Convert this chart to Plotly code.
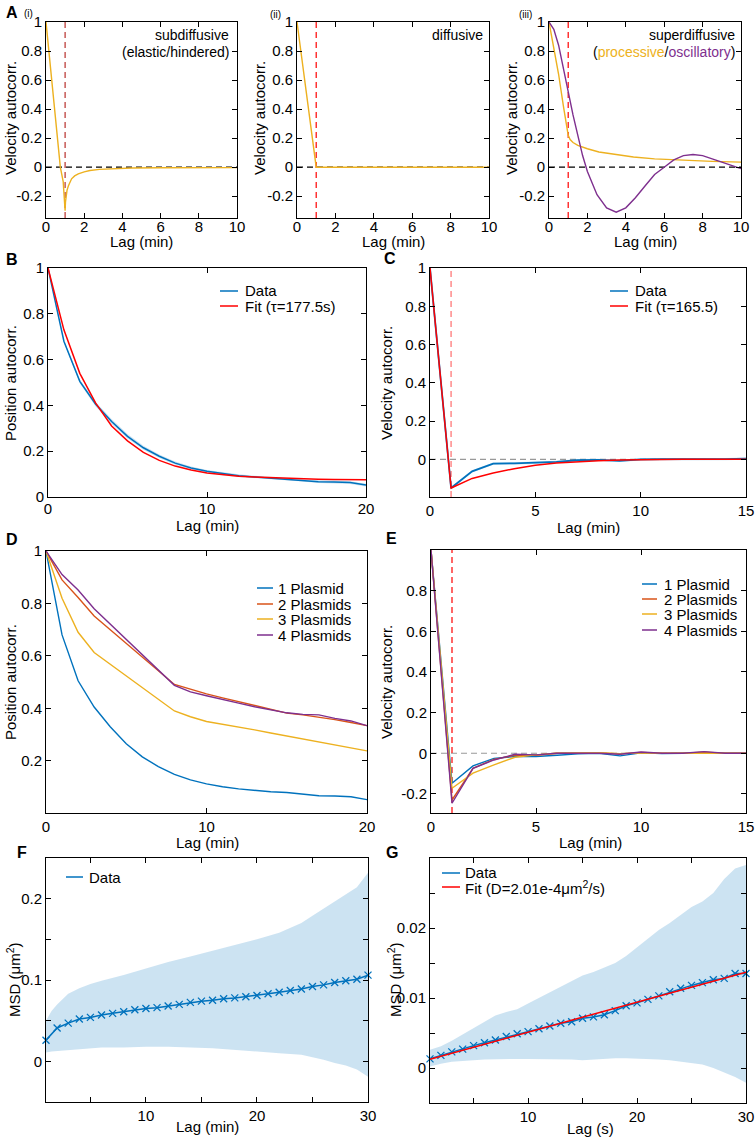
import plotly.graph_objects as go

W, H = 756, 1137
FONT = "Liberation Sans, Arial, Helvetica, sans-serif"
BLUE = "#0072BD"
ORANGE = "#D95319"
YELLOW = "#EDB120"
PURPLE = "#7E2F8E"
RED = "#FF0000"
BAND = "rgba(0,114,189,0.2)"

# ---- panel A: model velocity autocorrelations ----
ai_x = [0, 0.25, 0.5, 0.75, 0.9, 1.0, 1.02, 1.05, 1.1, 1.17, 1.25, 1.34, 1.5, 1.69, 2.0, 2.3, 2.8, 3.34, 4.5, 6, 8, 10]
ai_y = [1, 0.65, 0.3, 0.0, -0.1, -0.3, -0.24, -0.2, -0.16, -0.13, -0.1, -0.08, -0.06, -0.046, -0.032, -0.023, -0.015, -0.011, -0.006, -0.004, -0.003, -0.003]

aii_x = [0, 1, 10]
aii_y = [1, 0, 0]

aiii_proc_x = [0, 0.25, 0.5, 0.75, 0.9, 1.0, 1.1, 1.25, 1.5, 2.0, 2.6, 3.5, 4.4, 5.5, 7, 8.5, 10]
aiii_proc_y = [1, 0.83, 0.64, 0.42, 0.29, 0.22, 0.19, 0.17, 0.15, 0.127, 0.105, 0.085, 0.07, 0.057, 0.047, 0.04, 0.035]
aiii_osc_x = [0, 0.25, 0.5, 0.75, 1, 1.25, 1.5, 1.75, 2, 2.5, 3, 3.5, 4, 4.5, 5, 5.5, 6, 6.5, 7, 7.5, 8, 8.5, 9, 9.5, 10]
aiii_osc_y = [1, 0.95, 0.84, 0.69, 0.52, 0.36, 0.21, 0.08, -0.03, -0.19, -0.28, -0.31, -0.28, -0.21, -0.13, -0.05, 0.0, 0.05, 0.08, 0.087, 0.08, 0.06, 0.035, 0.012, -0.01]

# ---- panels B / D: position autocorrelation ----
lag20 = list(range(0, 21))
pos_1 = [1, 0.68, 0.505, 0.405, 0.33, 0.265, 0.215, 0.178, 0.148, 0.127, 0.112, 0.101, 0.093, 0.087, 0.082, 0.079, 0.074, 0.067, 0.066, 0.063, 0.052]
pos_1_lo = [1, 0.675, 0.497, 0.395, 0.319, 0.255, 0.206, 0.17, 0.141, 0.121, 0.106, 0.095, 0.087, 0.081, 0.076, 0.073, 0.068, 0.061, 0.06, 0.057, 0.046]
pos_1_hi = [1, 0.685, 0.513, 0.415, 0.341, 0.275, 0.224, 0.186, 0.155, 0.133, 0.118, 0.107, 0.099, 0.093, 0.088, 0.085, 0.08, 0.073, 0.072, 0.069, 0.058]
pos_fit = [1, 0.73, 0.54, 0.41, 0.31, 0.245, 0.195, 0.16, 0.135, 0.118, 0.105, 0.097, 0.091, 0.087, 0.084, 0.081, 0.079, 0.077, 0.076, 0.075, 0.075]

lagD = [0, 1, 2, 3, 8, 9, 10, 11, 12, 13, 14, 15, 16, 17, 18, 19, 20]
pos_2 = [1, 0.89, 0.823, 0.752, 0.491, 0.472, 0.455, 0.44, 0.425, 0.41, 0.395, 0.382, 0.375, 0.367, 0.357, 0.346, 0.334]
pos_3 = [1, 0.82, 0.69, 0.613, 0.39, 0.368, 0.35, 0.34, 0.33, 0.318, 0.306, 0.295, 0.283, 0.272, 0.262, 0.25, 0.238]
pos_4 = [1, 0.91, 0.851, 0.78, 0.488, 0.463, 0.448, 0.435, 0.42, 0.406, 0.395, 0.383, 0.377, 0.375, 0.362, 0.352, 0.334]

# ---- panels C / E: velocity autocorrelation ----
lag15 = list(range(0, 16))
vel_1 = [1, -0.15, -0.063, -0.023, -0.021, -0.018, -0.013, -0.005, -0.003, -0.008, 0.0, 0.001, 0.0, 0.0, 0.001, 0.004]
vel_fit = [1, -0.15, -0.10, -0.072, -0.049, -0.031, -0.019, -0.012, -0.007, -0.004, -0.002, -0.001, 0, 0, 0, 0]

velE_1 = [1, -0.148, -0.062, -0.025, -0.016, -0.016, -0.01, -0.003, 0.0, -0.013, 0.002, -0.002, 0.0, 0.004, 0.0, 0.0]
velE_2 = [1, -0.23, -0.074, -0.03, -0.01, -0.01, 0.0, 0.0, 0.002, -0.003, 0.004, 0.0, 0.0, 0.005, 0.0, 0.0]
velE_3 = [1, -0.172, -0.098, -0.057, -0.02, -0.008, 0.0, 0.0, 0.003, -0.002, 0.002, 0.0, 0.0, 0.0, 0.0, 0.0]
velE_4 = [1, -0.246, -0.074, -0.033, -0.005, -0.008, 0.0, 0.0, 0.0, -0.005, 0.006, 0.0, 0.0, 0.008, 0.0, 0.0]

# ---- panel F: MSD (min) ----
lag30 = list(range(1, 31))
msd_min = [0.026, 0.041, 0.047, 0.052, 0.054, 0.057, 0.059, 0.061, 0.0635, 0.065, 0.066, 0.068, 0.070, 0.0725, 0.074,
           0.075, 0.077, 0.078, 0.0795, 0.081, 0.083, 0.085, 0.087, 0.089, 0.092, 0.094, 0.097, 0.099, 0.101, 0.106]
F_band_x = [1, 1.5, 2, 3, 4, 5, 6, 8, 10, 12, 14, 16, 18, 20, 22, 24, 25, 26, 27, 28, 29, 30]
F_band_hi = [0.050, 0.062, 0.070, 0.083, 0.090, 0.095, 0.099, 0.106, 0.114, 0.122, 0.129, 0.136, 0.143, 0.150, 0.158, 0.170, 0.179, 0.188, 0.197, 0.205, 0.214, 0.232]
F_band_lo = [0.011, 0.012, 0.013, 0.014, 0.015, 0.016, 0.017, 0.017, 0.018, 0.018, 0.017, 0.016, 0.014, 0.012, 0.010, 0.008, 0.005, 0.002, -0.002, -0.005, -0.010, -0.019]

# ---- panel G: MSD (s) ----
msd_s = [0.0013, 0.0018, 0.0023, 0.0027, 0.0032, 0.0036, 0.0040, 0.0045, 0.0049, 0.0052, 0.0056, 0.0060, 0.0064, 0.0066, 0.0071,
         0.0073, 0.0076, 0.0082, 0.0089, 0.0093, 0.0098, 0.0103, 0.0109, 0.0114, 0.0118, 0.0122, 0.0126, 0.0128, 0.0135, 0.0135]
msd_fit_x = [1, 30]
msd_fit_y = [0.00125, 0.0137]
G_band_x = [1, 2, 3, 4, 5, 6, 7, 8, 9, 10, 12, 14, 15, 16, 17, 18, 19, 20, 21, 22, 23, 24, 25, 26, 27, 28, 29, 30]
G_band_hi = [0.0026, 0.0031, 0.0039, 0.0048, 0.0057, 0.0066, 0.0075, 0.0080, 0.0084, 0.0092, 0.0108, 0.0125, 0.0132, 0.0137,
             0.0143, 0.0150, 0.0160, 0.0172, 0.0185, 0.0197, 0.0207, 0.0218, 0.0230, 0.0238, 0.0250, 0.0270, 0.0285, 0.0290]
G_band_lo = [0.0002, 0.0006, 0.0009, 0.0010, 0.0011, 0.0012, 0.0012, 0.0013, 0.0013, 0.0013, 0.0013, 0.0012, 0.0011, 0.0012,
             0.0013, 0.0014, 0.0014, 0.0013, 0.0013, 0.0012, 0.0011, 0.0010, 0.0007, 0.0005, 0.0000, -0.0006, -0.0013, -0.0021]

fig = go.Figure()


def suffix(n):
    return "" if n == 1 else str(n)


def axes(n, box, xr, yr, xt, xl, yt, yl, xstand=0):
    x0, y0, x1, y1 = box
    s = suffix(n)
    common = dict(showline=True, linecolor="black", linewidth=1, mirror="ticks", ticks="inside",
                  ticklen=5, tickcolor="black", tickwidth=1, showgrid=False, zeroline=False,
                  tickfont=dict(family=FONT, size=15, color="black"), automargin=False)
    fig.update_layout(**{
        "xaxis" + s: dict(domain=[x0 / W, x1 / W], range=xr, anchor="y" + s, tickvals=xt, ticktext=xl,
                          ticklabelstandoff=xstand, **common),
        "yaxis" + s: dict(domain=[1 - y1 / H, 1 - y0 / H], range=yr, anchor="x" + s, tickvals=yt, ticktext=yl, **common),
    })


def line(n, x, y, color, width=1.4, **kw):
    s = suffix(n)
    fig.add_trace(go.Scatter(x=x, y=y, xaxis="x" + s, yaxis="y" + s, mode="lines",
                             line=dict(color=color, width=width), showlegend=False, hoverinfo="skip", **kw))


def band(n, x, lo, hi):
    s = suffix(n)
    fig.add_trace(go.Scatter(x=list(x) + list(x)[::-1], y=list(hi) + list(lo)[::-1], xaxis="x" + s, yaxis="y" + s,
                             mode="lines", fill="toself", fillcolor=BAND, line=dict(width=0),
                             showlegend=False, hoverinfo="skip"))


def hline(n, y, color, dash="6px,4px"):
    s = suffix(n)
    fig.add_shape(type="line", xref="x" + s + " domain", yref="y" + s, x0=0, x1=1, y0=y, y1=y,
                  line=dict(color=color, width=1.2, dash=dash), layer="below")


def vline(n, x, color, dash="6px,4px"):
    s = suffix(n)
    fig.add_shape(type="line", xref="x" + s, yref="y" + s + " domain", x0=x, x1=x, y0=0, y1=1,
                  line=dict(color=color, width=1.2, dash=dash), layer="below")


def text(px, py, t, size=15, anchor="center", angle=0, color="black"):
    fig.add_annotation(xref="paper", yref="paper", x=px / W, y=1 - py / H, text=t, showarrow=False,
                       xanchor=anchor, yanchor="middle", textangle=angle,
                       font=dict(family=FONT, size=size, color=color))


def legend(items, lx0, lx1, tx, ys):
    for (name, color), y in zip(items, ys):
        fig.add_shape(type="line", xref="paper", yref="paper", x0=lx0 / W, x1=lx1 / W,
                      y0=1 - y / H, y1=1 - y / H, line=dict(color=color, width=1.5))
        text(tx, y, name, anchor="left")


ticksA_x = [0, 2, 4, 6, 8, 10]
ticksA_y = [-0.2, 0, 0.2, 0.4, 0.6, 0.8, 1]
labA_y = ["-0.2", "0", "0.2", "0.4", "0.6", "0.8", "1"]
pos_ticks = [0, 0.2, 0.4, 0.6, 0.8, 1]
pos_lab = ["0", "0.2", "0.4", "0.6", "0.8", "1"]

# A(i)-(iii)
boxesA = [(46, 22, 237, 218), (297, 22, 489, 218), (549, 22, 741, 218)]
for i, b in enumerate(boxesA, start=1):
    axes(i, b, [0, 10], [-0.35, 1], ticksA_x, [str(v) for v in ticksA_x], ticksA_y, labA_y, xstand=-5)
    hline(i, 0, "black")
vline(1, 1, "#B8302C")
vline(2, 1, RED)
vline(3, 1, RED)
line(1, ai_x, ai_y, YELLOW)
line(2, aii_x, aii_y, YELLOW)
line(3, aiii_proc_x, aiii_proc_y, YELLOW)
line(3, aiii_osc_x, aiii_osc_y, PURPLE)

# B
axes(4, (48, 268, 366, 497), [0, 20], [0, 1], [0, 10, 20], ["0", "10", "20"], pos_ticks, pos_lab, xstand=-2)
band(4, lag20, pos_1_lo, pos_1_hi)
line(4, lag20, pos_1, BLUE, 1.5)
line(4, lag20, pos_fit, RED, 1.5)

# C
axes(5, (430, 268, 746, 497), [0, 15], [-0.197, 1], [0, 5, 10, 15], ["0", "5", "10", "15"], pos_ticks, pos_lab)
hline(5, 0, "#999999")
vline(5, 1, "rgba(255,60,60,0.75)")
band(5, lag15, [v - 0.006 for v in vel_1], [v + 0.006 for v in vel_1])
line(5, lag15, vel_1, BLUE, 1.8)
line(5, lag15, vel_fit, RED, 1.5)

# D
axes(6, (46, 551, 367, 813), [0, 20], [0.001, 1], [0, 10, 20], ["0", "10", "20"],
     [0.2, 0.4, 0.6, 0.8, 1], ["0.2", "0.4", "0.6", "0.8", "1"])
line(6, lag20, pos_1, BLUE)
line(6, lagD, pos_2, ORANGE)
line(6, lagD, pos_3, YELLOW)
line(6, lagD, pos_4, PURPLE)

# E
axes(7, (431, 550, 746, 813), [0, 15], [-0.294, 1.0], [0, 5, 10, 15], ["0", "5", "10", "15"],
     [-0.2, 0, 0.2, 0.4, 0.6, 0.8], ["-0.2", "0", "0.2", "0.4", "0.6", "0.8"])
hline(7, 0, "#999999")
vline(7, 1, RED)
line(7, lag15, velE_1, BLUE)
line(7, lag15, velE_2, ORANGE)
line(7, lag15, velE_3, YELLOW)
line(7, lag15, velE_4, PURPLE)

# F
fx = [5, 10, 15, 20, 25, 30]
fxl = ["", "10", "", "20", "", "30"]
axes(8, (46, 858, 368, 1102), [1, 30], [-0.05, 0.25], fx, fxl,
     [-0.05, 0, 0.05, 0.1, 0.15, 0.2, 0.25], ["", "0", "", "0.1", "", "0.2", ""])
band(8, F_band_x, F_band_lo, F_band_hi)
line(8, lag30, msd_min, BLUE, 1.5, cliponaxis=False)
fig.data[-1].update(mode="lines+markers", marker=dict(symbol="x-thin", size=7, line=dict(color=BLUE, width=1.3)))

# G
axes(9, (430, 858, 746, 1103), [1, 30], [-0.005, 0.03], fx, fxl,
     [-0.005, 0, 0.005, 0.01, 0.015, 0.02, 0.025, 0.03], ["", "0", "", "0.01", "", "0.02", "", ""])
band(9, G_band_x, G_band_lo, G_band_hi)
line(9, lag30, msd_s, BLUE, 1.5, cliponaxis=False)
fig.data[-1].update(mode="lines+markers", marker=dict(symbol="x-thin", size=7, line=dict(color=BLUE, width=1.3)))
line(9, msd_fit_x, msd_fit_y, RED, 1.5)

# axis titles
for cx in (141, 393, 645):
    text(cx, 241, "Lag (min)")
text(207, 525, "Lag (min)")
text(588, 527, "Lag (min)")
text(207, 842, "Lag (min)")
text(590, 842, "Lag (min)")
text(207, 1126, "Lag (min)")
text(590, 1128, "Lag (s)")
for cx in (10, 259, 511):
    text(cx, 118, "Velocity autocorr.", angle=-90)
text(10, 383, "Position autocorr.", angle=-90)
text(386, 383, "Velocity autocorr.", angle=-90)
text(10, 682, "Position autocorr.", angle=-90)
text(386, 682, "Velocity autocorr.", angle=-90)
text(13, 980, "MSD (μm<sup>2</sup>)", angle=-90)
text(394, 980, "MSD (μm<sup>2</sup>)", angle=-90)

# in-panel labels
text(231, 35, "subdiffusive", size=14, anchor="right")
text(231, 52, "(elastic/hindered)", size=14, anchor="right")
text(485, 35, "diffusive", size=14, anchor="right")
text(737, 35, "superdiffusive", size=14, anchor="right")
text(737, 52, '(<span style="color:#EDB120">processive</span>/<span style="color:#7E2F8E">oscillatory</span>)',
     size=14, anchor="right")

# panel letters
text(12, 12, "<b>A</b>", size=16)
text(28, 14, "(i)", size=10)
text(275, 15, "(ii)", size=10)
text(525, 15, "(iii)", size=10)
text(12, 259, "<b>B</b>", size=16)
text(390, 258, "<b>C</b>", size=16)
text(12, 539, "<b>D</b>", size=16)
text(391, 538, "<b>E</b>", size=16)
text(22, 852, "<b>F</b>", size=16)
text(392, 852, "<b>G</b>", size=16)

# legends
legend([("Data", BLUE), ("Fit (τ=177.5s)", RED)], 220, 238, 243, [291, 306])
legend([("Data", BLUE), ("Fit (τ=165.5)", RED)], 610, 628, 633, [291, 306])
plas = [("1 Plasmid", BLUE), ("2 Plasmids", ORANGE), ("3 Plasmids", YELLOW), ("4 Plasmids", PURPLE)]
legend(plas, 257, 273, 276, [588, 604, 619, 635])
legend(plas, 642, 657, 662, [584, 599, 614, 630])
legend([("Data", BLUE)], 66, 83, 87, [877])
legend([("Data", BLUE), ("Fit (D=2.01e-4μm<sup>2</sup>/s)", RED)], 442, 460, 463, [873, 887])

fig.update_layout(width=W, height=H, margin=dict(l=0, r=0, t=0, b=0), template="none",
                  paper_bgcolor="white", plot_bgcolor="rgba(0,0,0,0)", showlegend=False,
                  font=dict(family=FONT, size=15, color="black"))

# the page body has a default 8px margin; drop it so the figure sits at the window origin
fig.write_html("out.html", config={"displayModeBar": False},
               post_script="document.body.style.margin='0';")
